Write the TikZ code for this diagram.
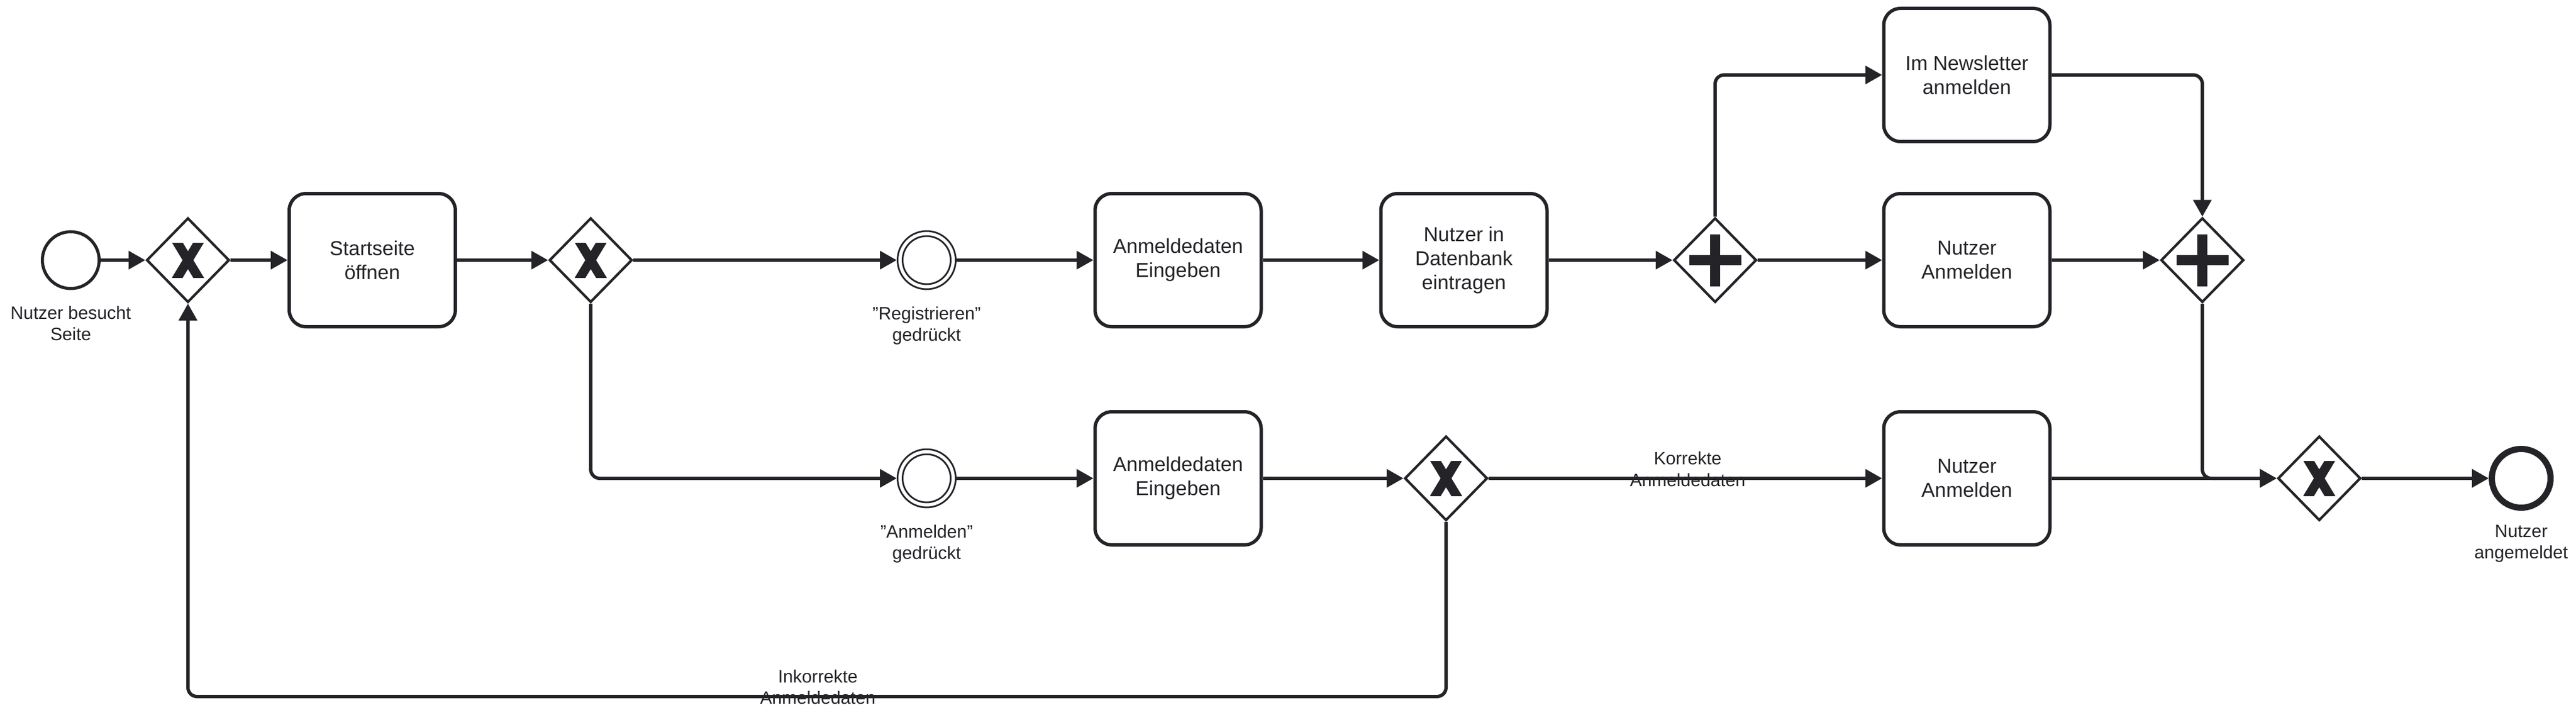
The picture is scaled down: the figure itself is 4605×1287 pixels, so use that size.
\documentclass[tikz,border=0pt]{standalone}
\usepackage{fontspec}
\setmainfont{Liberation Sans}
\usetikzlibrary{shapes.geometric,arrows.meta,calc}
\definecolor{lc}{RGB}{35,35,40}
\tikzset{
  task/.style={rectangle, rounded corners=30pt, draw=lc, line width=6pt, fill=white,
    minimum width=297pt, minimum height=238pt, inner sep=0pt, align=center, text=lc,
    font=\fontsize{36}{43}\selectfont},
  gw/.style={diamond, draw=lc, line width=4.5pt, fill=white, minimum width=148pt,
    minimum height=151pt, inner sep=0pt},
  startev/.style={circle, draw=lc, line width=5.5pt, fill=white, minimum size=101.5pt, inner sep=0pt},
  endev/.style={circle, draw=lc, line width=11pt, fill=white, minimum size=105pt, inner sep=0pt},
  interev/.style={circle, draw=lc, line width=3pt, fill=white, minimum size=104pt, inner sep=0pt},
  lbl/.style={align=center, text=lc, inner sep=0pt, font=\fontsize{32}{38.5}\selectfont},
  flow/.style={draw=lc, line width=6pt, rounded corners=16pt,
    -{Triangle[length=30pt,width=32pt]}},
  markline/.style={draw=lc, line width=16.5pt, line cap=butt},
}
\newcommand\gwXmark[1]{%
  \begin{scope}
    \clip ($(#1)+(-28.5,-31)$) rectangle ($(#1)+(28.5,31)$);
    \draw[markline] ($(#1)+(-23,-38)$) -- ($(#1)+(23,38)$);
    \draw[markline] ($(#1)+(23,-38)$) -- ($(#1)+(-23,38)$);
  \end{scope}}
\newcommand\gwPlusmark[1]{%
  \fill[lc] ($(#1)+(-46.5,-9)$) rectangle ($(#1)+(46.5,9)$);
  \fill[lc] ($(#1)+(-9,-46.5)$) rectangle ($(#1)+(9,46.5)$);}
\begin{document}
\begin{tikzpicture}[x=1pt,y=-1pt]
\useasboundingbox (0,0) rectangle (4605,1287);
% nodes row 1
\node[startev] (start) at (126.5,465) {};
\node[gw] (g1) at (336,465) {};
\node[task] (t1) at (665.5,465) {Startseite\\öffnen};
\node[gw] (g2) at (1056,465) {};
\node[interev] (e1) at (1656.5,465) {};
\node[task] (t2) at (2106,465) {Anmeldedaten\\Eingeben};
\node[task] (t3) at (2617,465) {Nutzer in\\Datenbank\\eintragen};
\node[gw] (p1) at (3066,465) {};
\node[task] (t4) at (3516,134) {Im Newsletter\\anmelden};
\node[task] (t5) at (3516,465) {Nutzer\\Anmelden};
\node[gw] (p2) at (3937,465) {};
% nodes row 2
\node[interev] (e2) at (1656.5,855) {};
\node[task] (t6) at (2106,855) {Anmeldedaten\\Eingeben};
\node[gw] (g3) at (2585,855) {};
\node[task] (t7) at (3516,855) {Nutzer\\Anmelden};
\node[gw] (g4) at (4146,855) {};
\node[endev] (end) at (4507,855) {};
% inner circles of intermediate events
\draw[lc, line width=3pt] (e1.center) circle (43);
\draw[lc, line width=3pt] (e2.center) circle (43);
% gateway markers
\gwXmark{g1}
\gwXmark{g2}
\gwXmark{g3}
\gwXmark{g4}
\gwPlusmark{p1}
\gwPlusmark{p2}
% event labels
\node[lbl, anchor=north] (lstart) at (126.5,547) {Nutzer besucht\\Seite};
\node[lbl, anchor=north] (le1) at (1656.5,548) {"Registrieren"\\gedrückt};
\node[lbl, anchor=north] (le2) at (1656.5,938) {"Anmelden"\\gedrückt};
\node[lbl, anchor=north] (lend) at (4507,938) {Nutzer\\angemeldet};
% connectors
\coordinate (loopy) at (0,1245);
\draw[flow] (start) -- (g1.west);
\draw[flow] (g1.east) -- (t1.west);
\draw[flow] (t1.east) -- (g2.west);
\draw[flow] (g2.east) -- (e1.west);
\draw[flow] (e1.east) -- (t2.west);
\draw[flow] (t2.east) -- (t3.west);
\draw[flow] (t3.east) -- (p1.west);
\draw[flow] (p1.north) |- (t4.west);
\draw[flow] (p1.east) -- (t5.west);
\draw[flow] (t4.east) -| (p2.north);
\draw[flow] (t5.east) -- (p2.west);
\draw[flow] (g2.south) |- (e2.west);
\draw[flow] (e2.east) -- (t6.west);
\draw[flow] (t6.east) -- (g3.west);
\draw[flow] (g3.east) -- (t7.west);
\draw[flow] (t7.east) -- (g4.west);
\draw[flow] (p2.south) |- (g4.west);
\draw[flow] (g4.east) -- (end.west);
\draw[flow] (g3.south) -- (g3.south |- loopy) -- (g1.south |- loopy) -- (g1.south);
% flow labels
\node[lbl, anchor=north] (lk) at (3017,807.5) {Korrekte\\Anmeldedaten};
\node[lbl, anchor=north] (lik) at (1462,1197) {Inkorrekte\\Anmeldedaten};
\end{tikzpicture}
\end{document}
